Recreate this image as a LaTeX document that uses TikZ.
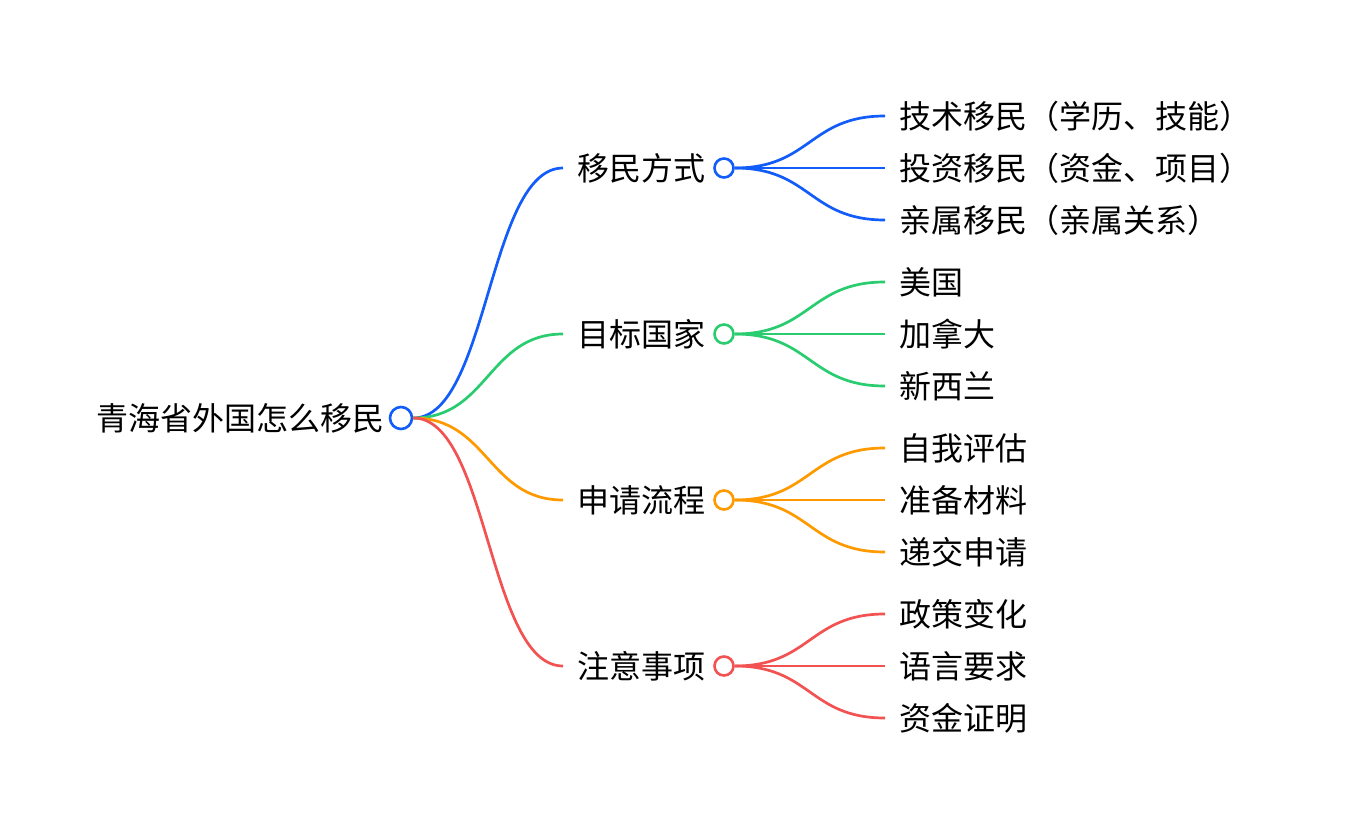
\documentclass[tikz,border=0pt]{standalone}
\usepackage{fontspec}
\setmainfont{Noto Sans CJK SC}

\definecolor{cblue}{RGB}{18,92,250}
\definecolor{cgreen}{RGB}{42,204,112}
\definecolor{corange}{RGB}{255,153,0}
\definecolor{cred}{RGB}{242,82,82}

\begin{document}
\begin{tikzpicture}[
  x=1pt, y=-1pt,
  txt/.style={inner ysep=0pt, inner xsep=14pt, anchor=west, font=\fontsize{32}{38}\selectfont},
  roottxt/.style={inner sep=0pt, anchor=east, font=\fontsize{32}{38}\selectfont},
  dot/.style={circle, draw, line width=2.6pt, fill=white, inner sep=0pt, minimum size=#1},
  link/.style={line width=2.7pt}
]
\useasboundingbox (0,0) rectangle (1352,834);

% Root
\node[roottxt] (root) at (385,418) {青海省外国怎么移民};
\node[dot=22pt, draw=cblue] (rootdot) at (401,418) {};

% Branches
\node[txt] (b1) at (563,168) {移民方式};
\node[dot=19pt, draw=cblue] (b1dot) at (724,168) {};
\node[txt] (b2) at (563,334) {目标国家};
\node[dot=19pt, draw=cgreen] (b2dot) at (724,334) {};
\node[txt] (b3) at (563,500) {申请流程};
\node[dot=19pt, draw=corange] (b3dot) at (724,500) {};
\node[txt] (b4) at (563,666) {注意事项};
\node[dot=19pt, draw=cred] (b4dot) at (724,666) {};

% Leaves
\node[txt] (l11) at (885,116) {技术移民（学历、技能）};
\node[txt] (l12) at (885,168) {投资移民（资金、项目）};
\node[txt] (l13) at (885,220) {亲属移民（亲属关系）};
\node[txt] (l21) at (885,282) {美国};
\node[txt] (l22) at (885,334) {加拿大};
\node[txt] (l23) at (885,386) {新西兰};
\node[txt] (l31) at (885,448) {自我评估};
\node[txt] (l32) at (885,500) {准备材料};
\node[txt] (l33) at (885,552) {递交申请};
\node[txt] (l41) at (885,614) {政策变化};
\node[txt] (l42) at (885,666) {语言要求};
\node[txt] (l43) at (885,718) {资金证明};

% Root to branches
\draw[link, cblue] (rootdot.east) .. controls +(75,0) and +(-75,0) .. (b1.west);
\draw[link, cgreen] (rootdot.east) .. controls +(75,0) and +(-75,0) .. (b2.west);
\draw[link, corange] (rootdot.east) .. controls +(75,0) and +(-75,0) .. (b3.west);
\draw[link, cred] (rootdot.east) .. controls +(75,0) and +(-75,0) .. (b4.west);

% Branches to leaves
\draw[link, cblue] (b1dot.east) .. controls +(76,0) and +(-76,0) .. (l11.west);
\draw[link, cblue] (b1dot.east) -- (l12.west);
\draw[link, cblue] (b1dot.east) .. controls +(76,0) and +(-76,0) .. (l13.west);
\draw[link, cgreen] (b2dot.east) .. controls +(76,0) and +(-76,0) .. (l21.west);
\draw[link, cgreen] (b2dot.east) -- (l22.west);
\draw[link, cgreen] (b2dot.east) .. controls +(76,0) and +(-76,0) .. (l23.west);
\draw[link, corange] (b3dot.east) .. controls +(76,0) and +(-76,0) .. (l31.west);
\draw[link, corange] (b3dot.east) -- (l32.west);
\draw[link, corange] (b3dot.east) .. controls +(76,0) and +(-76,0) .. (l33.west);
\draw[link, cred] (b4dot.east) .. controls +(76,0) and +(-76,0) .. (l41.west);
\draw[link, cred] (b4dot.east) -- (l42.west);
\draw[link, cred] (b4dot.east) .. controls +(76,0) and +(-76,0) .. (l43.west);

\end{tikzpicture}
\end{document}
